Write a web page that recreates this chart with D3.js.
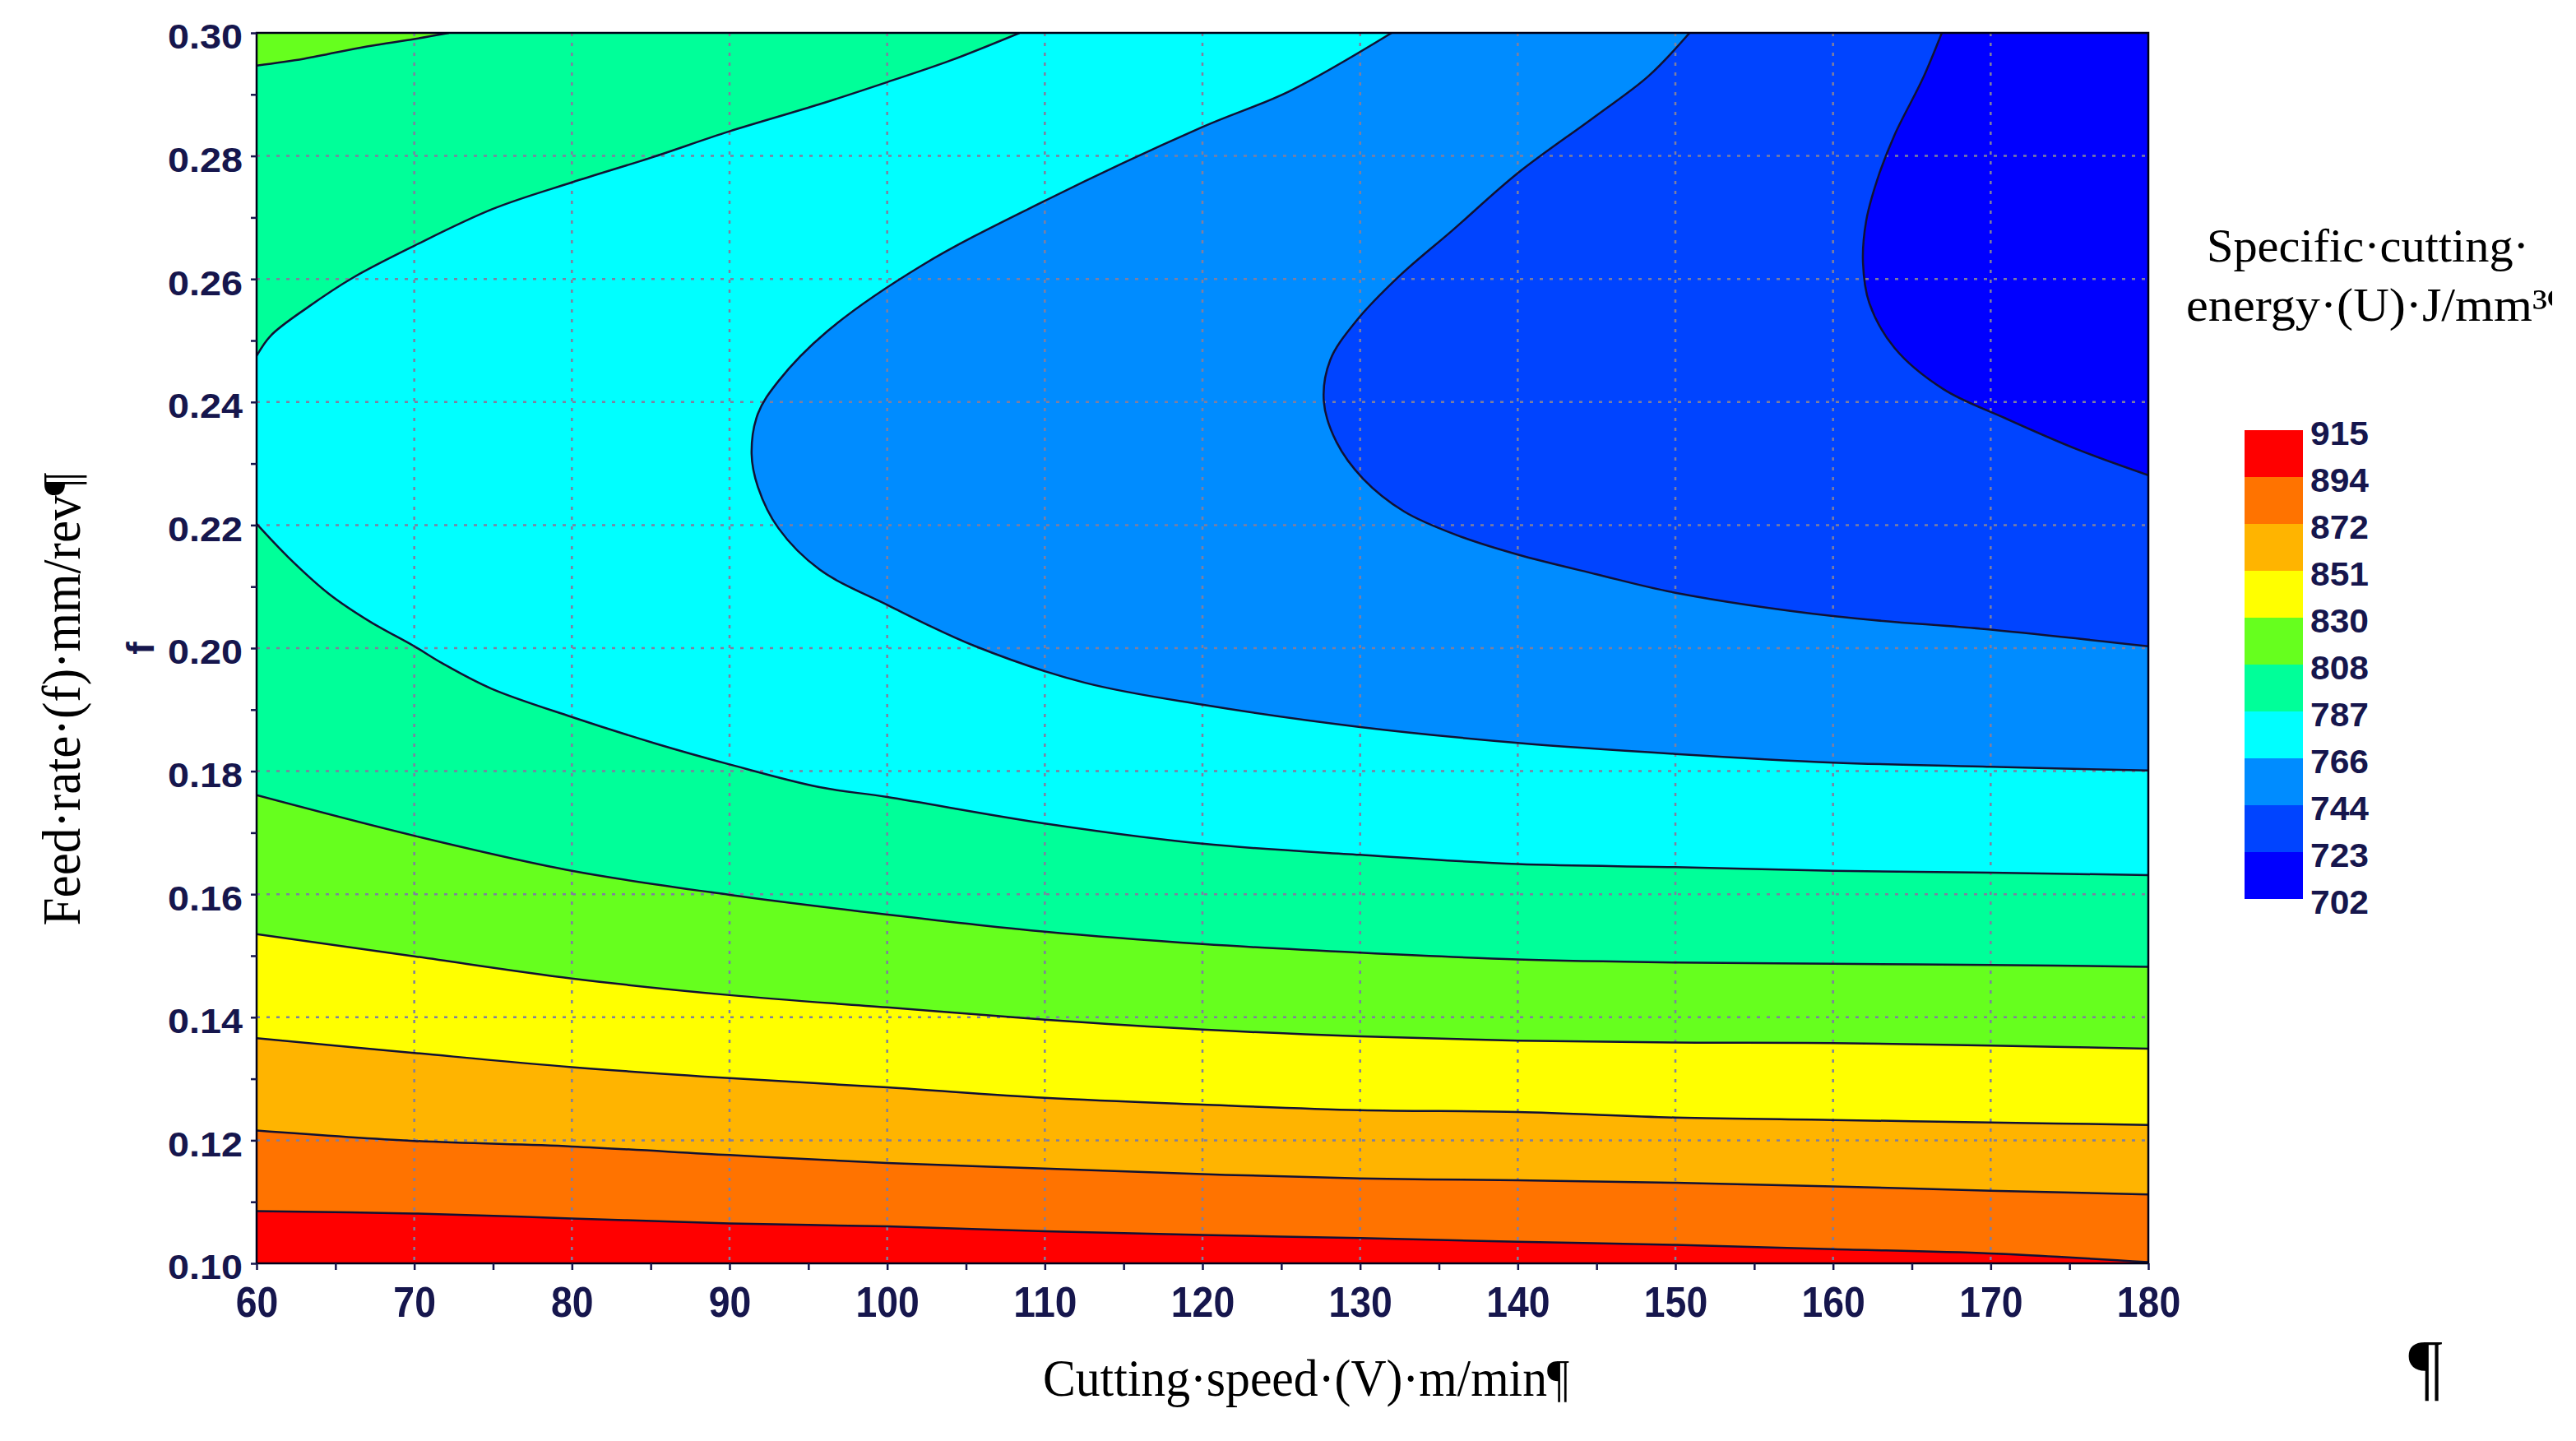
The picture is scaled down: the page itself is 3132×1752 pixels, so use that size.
<!DOCTYPE html>
<html>
<head>
<meta charset="utf-8">
<script src="https://cdn.jsdelivr.net/npm/d3@7"></script>
<style>
  body { margin: 0; background: #fff; }
  svg { display: block; }
</style>
</head>
<body>
<svg width="3132" height="1752"></svg>
<script>
//  contour levels and band colours (top of legend first)
var levels = [915, 894, 872, 851, 830, 808, 787, 766, 744, 723, 702];
var bandColors = ["#ff0000", "#ff7300", "#ffb400", "#ffff00", "#66ff1e",
                  "#00ff99", "#00ffff", "#008cff", "#0044ff", "#0000ff"];

//  axis ticks
var xTicks = [60, 70, 80, 90, 100, 110, 120, 130, 140, 150, 160, 170, 180];
var yTicks = [0.10, 0.12, 0.14, 0.16, 0.18, 0.20, 0.22, 0.24, 0.26, 0.28, 0.30];

//  contour lines, [V m/min, f mm/rev]
var c894 = [[60,0.1085],[70,0.1081],[80,0.1073],[90,0.1065],[100,0.1060],[110,0.1052],[120,0.1046],
            [130,0.1041],[140,0.1035],[150,0.1030],[160,0.1023],[170,0.1016],[180,0.1002]];
var c872 = [[60,0.1216],[70,0.1199],[80,0.1190],[90,0.1176],[100,0.1163],[110,0.1154],[120,0.1145],
            [130,0.1138],[140,0.1135],[150,0.1131],[160,0.1125],[170,0.1118],[180,0.1112]];
var c851 = [[60,0.1366],[70,0.1342],[80,0.1319],[90,0.1301],[100,0.1286],[110,0.1269],[120,0.1258],
            [130,0.1249],[140,0.1246],[150,0.1237],[160,0.1233],[170,0.1229],[180,0.1225]];
var c830 = [[60,0.1535],[70,0.1499],[80,0.1463],[90,0.1436],[100,0.1416],[110,0.1396],[120,0.1380],
            [130,0.1369],[140,0.1362],[150,0.1359],[160,0.1358],[170,0.1354],[180,0.1349]];
var c808 = [[60,0.1761],[70,0.1695],[80,0.1638],[90,0.1599],[100,0.1567],[110,0.1539],[120,0.1519],
            [130,0.1505],[140,0.1494],[150,0.1489],[160,0.1487],[170,0.1485],[180,0.1482]];
var c808top = [[60,0.2947],[63,0.2958],[67,0.2978],[70,0.2990],[72.2,0.30]];
var c787upper = [[60,0.2475],[60.9,0.2508],[63.3,0.2555],[66.1,0.2602],[70,0.2654],[75,0.2714],
                 [80,0.2757],[85,0.2797],[90,0.2840],[95.7,0.2884],[100,0.2920],[104,0.2955],[108.4,0.30]];
var c787lower = [[60,0.2202],[62,0.2148],[64.6,0.2088],[67.2,0.2043],[70,0.2003],[71.8,0.1975],
                 [74.9,0.1934],[80,0.1888],[85.3,0.1845],[90,0.1811],[95.7,0.1774],[100,0.1758],
                 [110,0.1715],[120,0.1682],[130,0.1664],[140,0.1649],[150,0.1644],[160,0.1638],
                 [170,0.1635],[180,0.1631]];
var c766 = [[132,0.30],[125.5,0.2905],[120,0.2847],[110,0.2727],[102.2,0.2622],[96.2,0.2515],
            [93.1,0.2434],[91.8,0.2381],[91.4,0.2316],[91.8,0.2262],[93.1,0.2195],[95.7,0.2128],
            [100.1,0.2069],[105.5,0.2004],[112.5,0.1944],[120,0.1908],[129.9,0.1872],[140,0.1846],
            [150,0.1828],[160,0.1814],[170,0.1807],[180,0.1801]];
var c744 = [[150.9,0.30],[148.3,0.2930],[144.9,0.2864],[140,0.2772],[135.9,0.2680],[132.5,0.2605],
            [129.7,0.2530],[128.1,0.2468],[127.7,0.2401],[128.5,0.2335],[130.2,0.2275],[132.8,0.2222],
            [136.2,0.2183],[140,0.2152],[145,0.2120],[150,0.2090],[160,0.2052],[170,0.2030],[180,0.2003]];
var c723 = [[166.9,0.30],[165.7,0.2926],[163.9,0.2834],[162.8,0.2761],[162.1,0.2694],[161.9,0.2627],
            [162.3,0.2561],[163.9,0.2488],[167,0.2421],[170.9,0.2374],[175.6,0.2322],[180,0.2281]];

//  svg selection and scales
var svg = d3.select("svg");
var x = d3.scaleLinear().domain([60, 180]).range([312, 2612]);
var y = d3.scaleLinear().domain([0.10, 0.30]).range([1536, 40]);
var navy = "#16164d";

var line = d3.line()
  .x(function(d) { return x(d[0]); })
  .y(function(d) { return y(d[1]); })
  .curve(d3.curveCatmullRom.alpha(0.5));

function cont(pts) { return line(pts).replace(/^M/, "L"); }
function corner(v, f) { return "L" + x(v) + "," + y(f); }
function rev(pts) { return pts.slice().reverse(); }

svg.append("clipPath").attr("id", "plot")
  .append("rect")
    .attr("x", x(60)).attr("y", y(0.30))
    .attr("width", x(180) - x(60)).attr("height", y(0.10) - y(0.30));

//  filled regions, painted from high U to low U
var regions = [
  line(c894) + corner(180, 0.30) + corner(60, 0.30) + "Z",
  line(c872) + corner(180, 0.30) + corner(60, 0.30) + "Z",
  line(c851) + corner(180, 0.30) + corner(60, 0.30) + "Z",
  line(c830) + corner(180, 0.30) + corner(60, 0.30) + "Z",
  line(c808) + corner(180, 0.30) + cont(rev(c808top)) + "Z",
  line(c787lower) + corner(180, 0.30) + cont(rev(c787upper)) + "Z",
  line(c766) + corner(180, 0.30) + "Z",
  line(c744) + corner(180, 0.30) + "Z",
  line(c723) + corner(180, 0.30) + "Z"
];

var fills = svg.append("g").attr("clip-path", "url(#plot)");

fills.append("rect")
  .attr("x", x(60)).attr("y", y(0.30))
  .attr("width", x(180) - x(60)).attr("height", y(0.10) - y(0.30))
  .attr("fill", bandColors[0]);

fills.selectAll("path.band").data(regions)
  .enter().append("path")
    .attr("class", "band")
    .attr("d", function(d) { return d; })
    .attr("fill", function(d, i) { return bandColors[i + 1]; });

//  dotted grid
var grid = svg.append("g")
  .attr("stroke", "#7f7f9f")
  .attr("stroke-width", 2.5)
  .attr("stroke-dasharray", "4,8");

grid.selectAll("line.gx").data(xTicks.slice(1, -1))
  .enter().append("line")
    .attr("x1", function(d) { return x(d); }).attr("x2", function(d) { return x(d); })
    .attr("y1", y(0.30)).attr("y2", y(0.10));

grid.selectAll("line.gy").data(yTicks.slice(1, -1))
  .enter().append("line")
    .attr("y1", function(d) { return y(d); }).attr("y2", function(d) { return y(d); })
    .attr("x1", x(60)).attr("x2", x(180));

//  contour lines
svg.append("g")
  .attr("clip-path", "url(#plot)")
  .selectAll("path")
  .data([c894, c872, c851, c830, c808, c808top, c787lower, c787upper, c766, c744, c723])
  .enter().append("path")
    .attr("d", line)
    .attr("fill", "none")
    .attr("stroke", "#111133")
    .attr("stroke-width", 2.5);

//  frame
svg.append("rect")
  .attr("x", x(60)).attr("y", y(0.30))
  .attr("width", x(180) - x(60)).attr("height", y(0.10) - y(0.30))
  .attr("fill", "none")
  .attr("stroke", "#000018")
  .attr("stroke-width", 2.5);

//  axes
var xAxis = d3.axisBottom(x)
  .tickValues(d3.range(60, 181, 5))
  .tickSize(8)
  .tickFormat(function(d) { return xTicks.indexOf(d) >= 0 ? d : ""; });

var gx = svg.append("g")
  .attr("transform", "translate(0," + y(0.10) + ")")
  .call(xAxis);

var yAxis = d3.axisLeft(y)
  .tickValues(d3.range(10, 31).map(function(i) { return i / 100; }))
  .tickSize(7)
  .tickPadding(10)
  .tickFormat(function(d) { return Math.round(d * 100) % 2 === 0 ? d3.format(".2f")(d) : ""; });

var gy = svg.append("g")
  .attr("transform", "translate(" + x(60) + ",0)")
  .call(yAxis);

[gx, gy].forEach(function(g) {
  g.select(".domain").remove();
  g.selectAll(".tick line").attr("stroke", navy).attr("stroke-width", 2.5);
  g.selectAll(".tick text")
    .attr("fill", navy)
    .attr("font-family", "'Liberation Sans', Arial, sans-serif")
    .attr("font-weight", "bold");
});

gx.selectAll(".tick text")
  .attr("font-size", 51)
  .attr("y", 29)
  .attr("lengthAdjust", "spacingAndGlyphs")
  .attr("textLength", function() { return this.textContent.length * 25.8 || null; });

gy.selectAll(".tick text")
  .attr("font-size", 42)
  .attr("dy", "0.45em")
  .attr("lengthAdjust", "spacingAndGlyphs")
  .attr("textLength", function() { return this.textContent.length ? 91 : null; });

//  axis titles
var serif = "'Liberation Serif', 'Times New Roman', serif";

svg.append("text")
  .attr("x", 1268).attr("y", 1697)
  .attr("font-family", serif).attr("font-size", 63)
  .attr("textLength", 640).attr("lengthAdjust", "spacingAndGlyphs")
  .text("Cutting\u00b7speed\u00b7(V)\u00b7m/min\u00b6");

svg.append("text")
  .attr("transform", "translate(97,850) rotate(-90)")
  .attr("text-anchor", "middle")
  .attr("font-family", serif).attr("font-size", 65)
  .attr("textLength", 551).attr("lengthAdjust", "spacingAndGlyphs")
  .text("Feed\u00b7rate\u00b7(f)\u00b7mm/rev\u00b6");

svg.append("text")
  .attr("transform", "translate(187,788) rotate(-90)")
  .attr("text-anchor", "middle")
  .attr("font-family", "'Liberation Sans', Arial, sans-serif")
  .attr("font-weight", "bold")
  .attr("font-size", 46)
  .attr("fill", navy)
  .text("f");

svg.append("text")
  .attr("x", 2949).attr("y", 1692)
  .attr("text-anchor", "middle")
  .attr("font-family", serif).attr("font-size", 92)
  .text("\u00b6");

//  legend
var legend = svg.append("g");
var ly = d3.scaleLinear().domain([0, bandColors.length]).range([523, 1093]);

legend.append("text")
  .attr("x", 2683).attr("y", 318)
  .attr("font-family", serif).attr("font-size", 56)
  .attr("textLength", 392).attr("lengthAdjust", "spacingAndGlyphs")
  .text("Specific\u00b7cutting\u00b7");

legend.append("text")
  .attr("x", 2658).attr("y", 390)
  .attr("font-family", serif).attr("font-size", 56)
  .attr("textLength", 439).attr("lengthAdjust", "spacingAndGlyphs")
  .text("energy\u00b7(U)\u00b7J/mm\u00b3");

svg.append("clipPath").attr("id", "cut")
  .append("rect").attr("x", 3090).attr("y", 300).attr("width", 13).attr("height", 120);

legend.append("text")
  .attr("x", 3098).attr("y", 390)
  .attr("clip-path", "url(#cut)")
  .attr("font-family", serif).attr("font-size", 56)
  .text("\u00b6");

legend.selectAll("rect.box").data(bandColors)
  .enter().append("rect")
    .attr("class", "box")
    .attr("x", 2729)
    .attr("y", function(d, i) { return ly(i); })
    .attr("width", 71)
    .attr("height", function(d, i) { return ly(i + 1) - ly(i); })
    .attr("fill", function(d) { return d; });

legend.selectAll("text.lab").data(levels)
  .enter().append("text")
    .attr("class", "lab")
    .attr("x", 2809)
    .attr("y", function(d, i) { return ly(i) + 3; })
    .attr("dy", "0.36em")
    .attr("font-family", "'Liberation Sans', Arial, sans-serif")
    .attr("font-weight", "bold")
    .attr("font-size", 41)
    .attr("fill", navy)
    .attr("textLength", 71).attr("lengthAdjust", "spacingAndGlyphs")
    .text(function(d) { return d; });
</script>
</body>
</html>
